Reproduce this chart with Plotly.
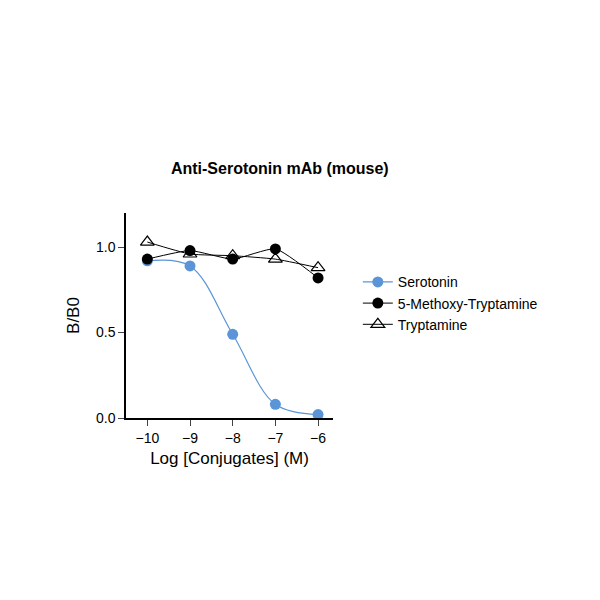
import plotly.graph_objects as go

log_conc = [-10, -9, -8, -7, -6]
serotonin = [0.92, 0.89, 0.49, 0.08, 0.02]
methoxy = [0.93, 0.98, 0.93, 0.99, 0.82]
tryptamine = [1.03, 0.96, 0.95, 0.93, 0.88]

fig = go.Figure()
fig.add_trace(go.Scatter(x=log_conc, y=serotonin, name="Serotonin", mode="lines+markers",
                         line=dict(color="#5b95d8", width=1.2, shape="spline", smoothing=1.0),
                         marker=dict(color="#5b95d8", size=11), cliponaxis=False))
fig.add_trace(go.Scatter(x=log_conc, y=methoxy, name="5-Methoxy-Tryptamine", mode="lines+markers",
                         line=dict(color="black", width=1, shape="spline", smoothing=0.5),
                         marker=dict(color="black", size=11), cliponaxis=False))
fig.add_trace(go.Scatter(x=log_conc, y=tryptamine, name="Tryptamine", mode="lines+markers",
                         line=dict(color="black", width=1, shape="spline", smoothing=0.5),
                         marker=dict(symbol="triangle-up-open", color="black", size=12,
                                     line=dict(width=1.2)), cliponaxis=False))

fig.update_layout(
    width=600, height=600, plot_bgcolor="white", paper_bgcolor="white",
    font=dict(family="Liberation Sans, Arial", size=14, color="black"),
    title=dict(text="<b>Anti-Serotonin mAb (mouse)</b>", x=0.453, xanchor="center",
               y=0.733, yanchor="middle", font=dict(size=16)),
    margin=dict(l=118, r=275, t=205, b=190),
    legend=dict(x=1.12, y=0.74, xanchor="left", yanchor="top", font=dict(size=14),
                bgcolor="rgba(0,0,0,0)"),
    xaxis=dict(range=[-10.5, -5.65], tickvals=log_conc, ticks="outside", ticklen=6,
               showline=True, linecolor="black", linewidth=1.5, showgrid=False, zeroline=False,
               title=dict(text="Log [Conjugates] (M)", standoff=8)),
    yaxis=dict(range=[0, 1.2], tickvals=[0, 0.5, 1.0], tickformat=".1f", ticks="outside",
               ticklen=6, showline=True, linecolor="black", linewidth=1.5, showgrid=False,
               zeroline=False, title=dict(text="B/B0", standoff=12)),
)
fig.write_html("out.html")
